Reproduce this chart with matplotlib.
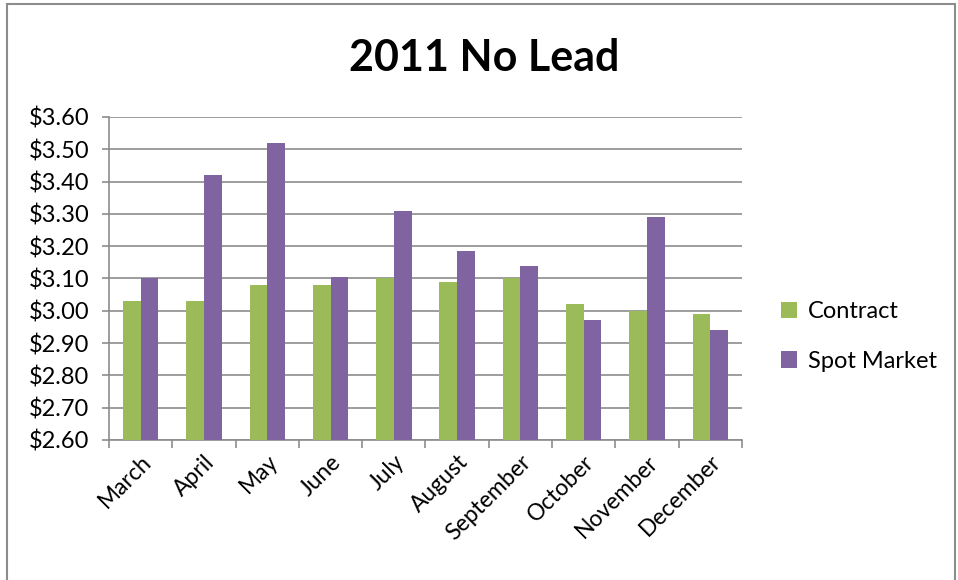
import numpy as np
import matplotlib.pyplot as plt
from matplotlib.patches import Rectangle

plt.rcParams['font.family'] = ['Lato', 'DejaVu Sans']

months = ['March', 'April', 'May', 'June', 'July', 'August',
          'September', 'October', 'November', 'December']
contract = [3.03, 3.03, 3.08, 3.08, 3.10, 3.09, 3.10, 3.02, 3.00, 2.99]
spot_market = [3.10, 3.42, 3.52, 3.105, 3.31, 3.185, 3.14, 2.97, 3.29, 2.94]
yticks = np.arange(2.60, 3.601, 0.10)

green = '#9BBB59'
purple = '#8064A2'
grid_col = '#8C8C8C'

fig = plt.figure(figsize=(9.58, 5.8), dpi=100)
# outer chart frame
fig.patches.append(Rectangle((0.007, -0.01), 0.99, 1.003, transform=fig.transFigure,
                             fill=False, edgecolor='#8C8C8C', linewidth=1.5))

ax = fig.add_axes([0.1138, 0.2414, 0.6607, 0.5569])
x = np.arange(len(months))
w = 0.28
ax.bar(x - w / 2, contract, w, color=green, label='Contract', zorder=3)
ax.bar(x + w / 2, spot_market, w, color=purple, label='Spot Market', zorder=3)

ax.set_ylim(2.60, 3.60)
ax.set_xlim(-0.5, len(months) - 0.5)
ax.set_yticks(yticks)
ax.set_yticklabels(['${:.2f}'.format(v) for v in yticks], fontsize=17)
ax.yaxis.grid(True, color=grid_col, linewidth=1.2, zorder=0)

ax.set_xticks(x)
ax.set_xticklabels(months, rotation=45, ha='right', rotation_mode='anchor', fontsize=16.5)
ax.tick_params(axis='x', length=0, pad=8)
ax.set_xticks(np.arange(-0.5, len(months)), minor=True)
ax.tick_params(axis='x', which='minor', length=6, color=grid_col, width=1.2)
ax.tick_params(axis='y', length=5, color=grid_col, width=1.2, pad=9)

for side in ['top', 'right']:
    ax.spines[side].set_visible(False)
for side in ['left', 'bottom']:
    ax.spines[side].set_color(grid_col)
    ax.spines[side].set_linewidth(1.2)

fig.text(0.505, 0.9, '2011 No Lead', ha='center', va='center',
         fontsize=31, fontweight='bold')

fig.legend(loc='center left', bbox_to_anchor=(0.793, 0.42), frameon=False,
           fontsize=17, handlelength=0.7, handleheight=0.7, handletextpad=0.45,
           labelspacing=1.2)

fig.savefig('out.png', dpi=100)
